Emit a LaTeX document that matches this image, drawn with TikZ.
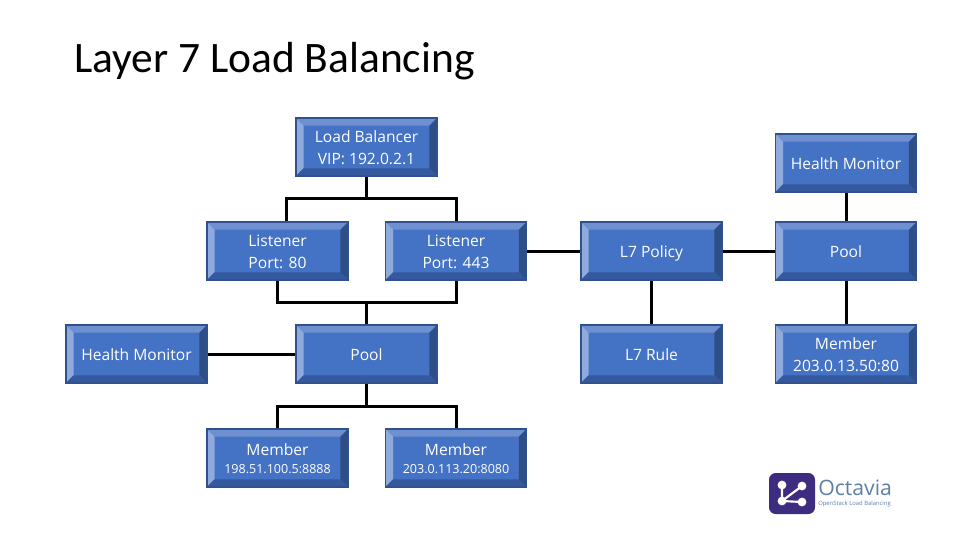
\documentclass[tikz,border=0pt]{standalone}
\usepackage{fontspec}
\setmainfont{Open Sans}
\newfontfamily\titlefont{Carlito}
\usetikzlibrary{calc}
\definecolor{boxfill}{HTML}{4472C4}
\definecolor{boxedge}{HTML}{2F528F}
\definecolor{bevtop}{HTML}{6F90D0}
\definecolor{bevleft}{HTML}{8FAADC}
\definecolor{bevright}{HTML}{2E4E86}
\definecolor{bevbot}{HTML}{34599E}
\definecolor{logopurple}{HTML}{3E2C80}
\definecolor{logoblue}{HTML}{5C7FA6}
\newcommand{\bevelw}{5.6pt}
\tikzset{
  bevelbox/.style={
    draw=boxedge, line width=1.1pt, fill=boxfill, text=white,
    minimum width=105.5pt, minimum height=43.2pt, inner sep=0pt,
    align=center, font=\fontsize{11.7}{16.5}\selectfont,
    path picture={
      \coordinate (sw) at (path picture bounding box.south west);
      \coordinate (ne) at (path picture bounding box.north east);
      \coordinate (nw) at (path picture bounding box.north west);
      \coordinate (se) at (path picture bounding box.south east);
      \coordinate (isw) at ($(sw)+(\bevelw,\bevelw)$);
      \coordinate (ine) at ($(ne)+(-\bevelw,-\bevelw)$);
      \coordinate (inw) at ($(nw)+(\bevelw,-\bevelw)$);
      \coordinate (ise) at ($(se)+(-\bevelw,\bevelw)$);
      \fill[bevtop] (nw) -- (ne) -- (ine) -- (inw) -- cycle;
      \fill[bevleft] (nw) -- (inw) -- (isw) -- (sw) -- cycle;
      \fill[bevright] (ne) -- (se) -- (ise) -- (ine) -- cycle;
      \fill[bevbot] (sw) -- (isw) -- (ise) -- (se) -- cycle;
    }
  },
  link/.style={line width=2.25pt, black, line cap=butt, line join=miter},
}
\newcommand{\smalltxt}[1]{{\fontsize{9.4}{12}\selectfont #1}}
\newcommand{\topstr}{\rule{0pt}{14.55pt}}
\begin{document}
\begin{tikzpicture}[x=0.75pt,y=-0.75pt]
\useasboundingbox (0,0) rectangle (960,540);
\node[anchor=base west, inner sep=0pt, font=\titlefont\fontsize{32.6}{36}\selectfont] (title) at (74,72) {Layer 7 Load Balancing};

\node[bevelbox] (lb) at (366.5,147) {\topstr Load Balancer\\VIP: 192.0.2.1\strut};
\node[bevelbox] (hmr) at (846,163) {\topstr Health Monitor\strut};
\node[bevelbox] (l80) at (277.5,251) {\topstr Listener\\Port: 80\strut};
\node[bevelbox] (l443) at (456,251) {\topstr Listener\\Port: 443\strut};
\node[bevelbox] (pol) at (651.5,251) {\topstr L7 Policy\strut};
\node[bevelbox] (poolr) at (846,251) {\topstr Pool\strut};
\node[bevelbox] (hml) at (136.5,354) {\topstr Health Monitor\strut};
\node[bevelbox] (pool) at (366.5,354) {\topstr Pool\strut};
\node[bevelbox] (rule) at (651.5,354) {\topstr L7 Rule\strut};
\node[bevelbox] (memr) at (846,354) {\topstr Member\\203.0.13.50:80\strut};
\node[bevelbox] (m1) at (277.5,458) {\topstr Member\\[-3.5pt]\smalltxt{198.51.100.5:8888}\strut};
\node[bevelbox] (m2) at (456,458) {\topstr Member\\[-3.5pt]\smalltxt{203.0.113.20:8080}\strut};

\coordinate (up) at (366.5,198);
\coordinate (mid) at (366.5,302);
\coordinate (low) at (366.5,406);
\coordinate (l80drop) at ($(l80.north)+(8.5,0)$);
\draw[link] (lb.south) -- (up);
\draw[link] (l80drop) |- (up) -| (l443.north);
\draw[link] (l80.south) |- (mid) -| (l443.south);
\draw[link] (mid) -- (pool.north);
\draw[link] (pool.south) -- (low);
\draw[link] (m1.north) |- (low) -| (m2.north);
\draw[link] (hml.east) -- (pool.west);
\draw[link] (l443.east) -- (pol.west);
\draw[link] (pol.east) -- (poolr.west);
\draw[link] (pol.south) -- (rule.north);
\draw[link] (hmr.south) -- (poolr.north);
\draw[link] (poolr.south) -- (memr.north);

% logo
\fill[logopurple, rounded corners=5pt] (769,473) rectangle (815,514);
\draw[white, line width=1.6pt] (782,485) -- (782,501) -- (802,486) (782,501) -- (802,502);
\foreach \p in {(782,485),(802,486),(782,501),(802,502)}
  \fill[white] \p circle (4.4);
\node[anchor=base west, inner sep=0pt, text=logoblue, font=\fontsize{15.9}{18}\selectfont] (octa) at (818,495) {Octavia};
\node[anchor=base west, inner sep=0pt, text=logoblue, font=\fontsize{4.4}{5}\selectfont] (octb) at (818,505.5) {OpenStack Load Balancing};
\end{tikzpicture}
\end{document}
